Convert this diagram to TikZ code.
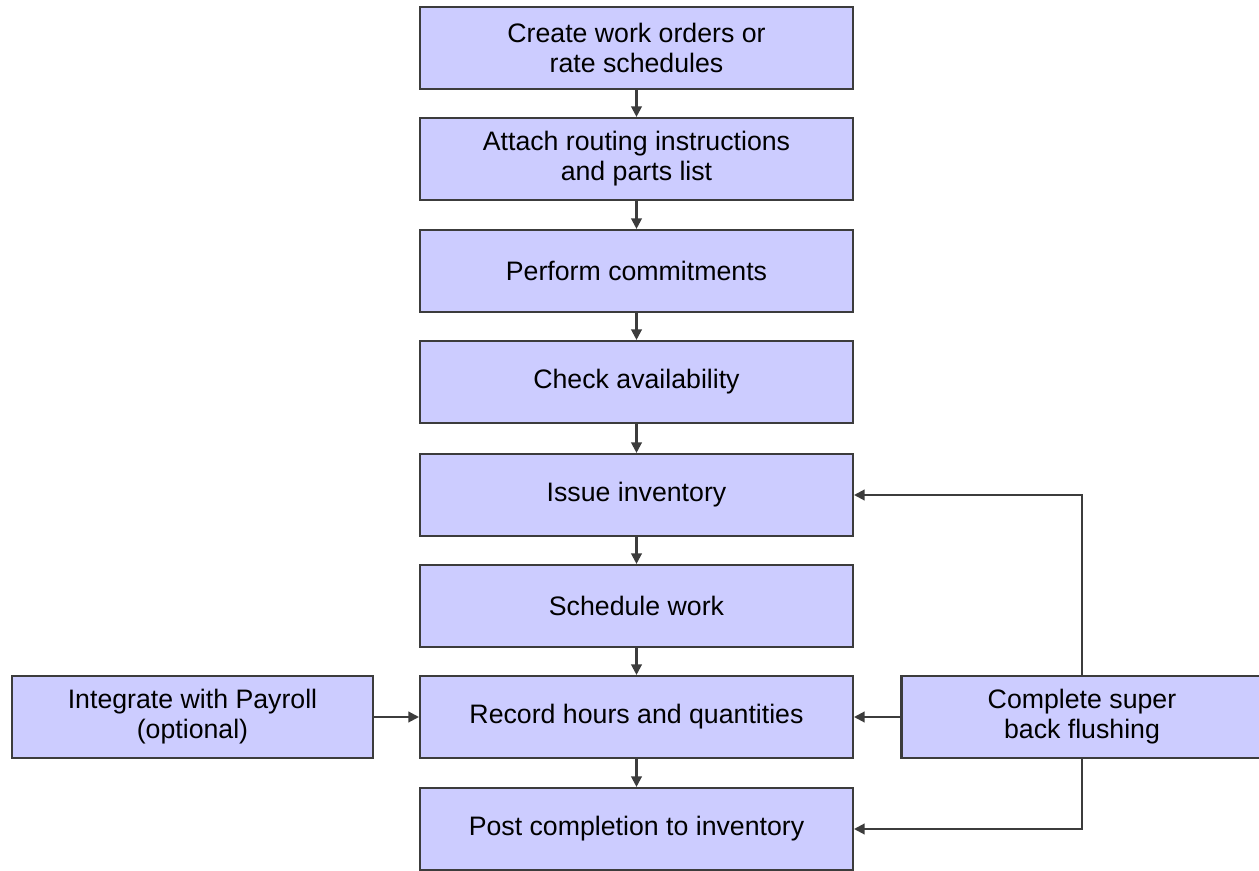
\documentclass[tikz,border=0pt]{standalone}
\usepackage{fontspec}
\setmainfont{Liberation Sans}
\usetikzlibrary{positioning, arrows.meta}
\definecolor{boxfill}{RGB}{204,204,255}
\definecolor{boxline}{RGB}{60,60,60}

\begin{document}
\begin{tikzpicture}[x=0.02cm, y=-0.02cm,
  stepbox/.style={draw=boxline, fill=boxfill, line width=1.2pt,
    minimum width=8.66cm, minimum height=1.64cm, inner sep=0pt,
    align=center, font=\fontsize{15.2}{17}\selectfont},
  sidebox/.style={stepbox, minimum width=7.22cm},
  link/.style={draw=boxline, line width=1.2pt,
    -{Triangle[length=6pt, width=6pt]}}]
  \useasboundingbox (0,0) rectangle (1259,871);

  % Hauptspalte
  \node[stepbox] (create)   at (636.5, 48)  {Create work orders or\\rate schedules};
  \node[stepbox] (attach)   at (636.5, 159) {Attach routing instructions\\and parts list};
  \node[stepbox] (commit)   at (636.5, 271) {Perform commitments};
  \node[stepbox] (check)    at (636.5, 382) {Check availability};
  \node[stepbox] (issue)    at (636.5, 495) {Issue inventory};
  \node[stepbox] (schedule) at (636.5, 606) {Schedule work};
  \node[stepbox] (record)   at (636.5, 717) {Record hours and quantities};
  \node[stepbox] (post)     at (636.5, 829) {Post completion to inventory};

  % Seitenboxen
  \node[sidebox] (payroll) at (192.5, 717) {Integrate with Payroll\\(optional)};
  \node[sidebox] (super)   at (1082, 717)  {Complete super\\back flushing};

  % Pfeile nach unten
  \foreach \a/\b in {create/attach, attach/commit, commit/check, check/issue,
                     issue/schedule, schedule/record, record/post} {
    \draw[link] (\a) -- (\b);
  }

  % Rueckfuehrungen
  \draw[link] (payroll) -- (record);
  \draw[link] (super) -- (record);
  \draw[link] (super.north) |- (issue.east);
  \draw[link] (super.south) |- (post.east);
\end{tikzpicture}
\end{document}
